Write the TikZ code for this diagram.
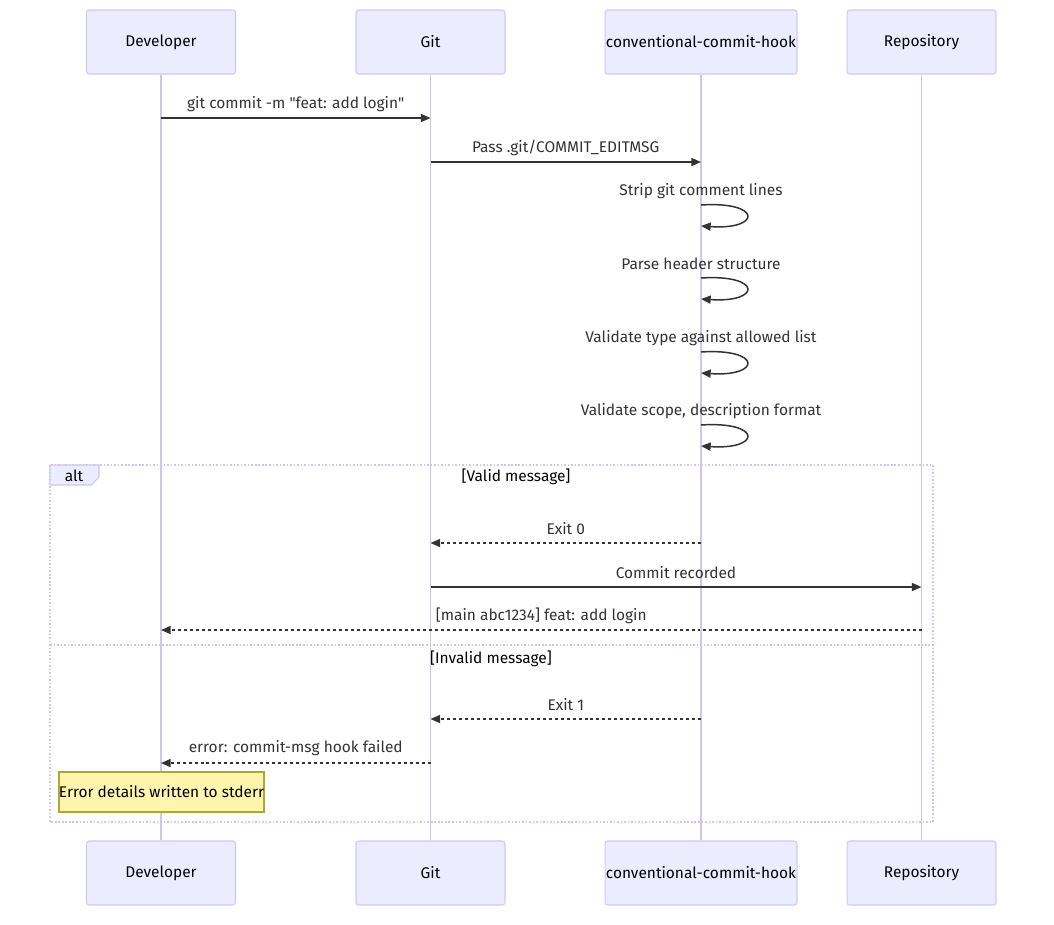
\documentclass[tikz,border=0pt]{standalone}
\usepackage{fontspec}
\setmainfont{Fira Sans}
\usetikzlibrary{positioning, arrows.meta, shapes.geometric}
\definecolor{actorfill}{HTML}{ECECFF}
\definecolor{actorline}{HTML}{D3C8F2}
\definecolor{lifeline}{HTML}{D0C5F0}
\definecolor{msgline}{HTML}{333333}
\definecolor{notefill}{HTML}{FFF5AD}
\definecolor{noteline}{HTML}{AAAA33}

\begin{document}
\begin{tikzpicture}[x=0.02cm, y=-0.02cm, font=\fontsize{8.8}{10}\selectfont,
    actor/.style={draw=actorline, fill=actorfill, rounded corners=1.5pt,
      line width=0.6pt, minimum width=2.98cm, minimum height=1.28cm, text=black},
    wideactor/.style={actor, minimum width=3.84cm, inner xsep=0pt},
    lifeln/.style={draw=lifeline, line width=0.95pt},
    msg/.style={draw=msgline, line width=0.85pt, -{Triangle[length=5.5pt,width=4.6pt]}},
    reply/.style={msg, dash pattern=on 1.7pt off 1.7pt},
    lbl/.style={text=msgline, inner sep=0pt},
    altframe/.style={draw=lifeline, line width=0.85pt, dash pattern=on 0.9pt off 1.1pt},
    note/.style={draw=noteline, fill=notefill, line width=0.6pt,
      minimum width=4.1cm, minimum height=0.8cm}]
    \useasboundingbox (0,0) rectangle (1054,924);

    % Actors top and bottom
    \node[actor] (dev) at (161,42) {Developer};
    \node[actor] (git) at (430.5,42) {Git};
    \node[wideactor] (hook) at (701,42) {conventional-commit-hook};
    \node[actor] (repo) at (921.5,42) {Repository};
    \node[actor] (devb) at (161,873) {Developer};
    \node[actor] (gitb) at (430.5,873) {Git};
    \node[wideactor] (hookb) at (701,873) {conventional-commit-hook};
    \node[actor] (repob) at (921.5,873) {Repository};

    % Lifelines
    \foreach \a in {dev, git, hook, repo} {
        \draw[lifeln] (\a.south) -- (\a b.north);
    }

    % Alt frame
    \draw[altframe] (50,465) rectangle (933,822);
    \draw[draw=lifeline, fill=actorfill, line width=0.6pt]
        (50,465) -- (99,465) -- (99,477) -- (91,485) -- (50,485) -- cycle;
    \node[lbl, text=black] (alt) at (74,476) {alt};
    \node[lbl, text=black] (valid) at (516,477) {[Valid message]};
    \coordinate (sepl) at (50,645);
    \coordinate (sepr) at (933,645);
    \draw[altframe] (sepl) -- (sepr);
    \node[lbl, text=black] (invalid) at (491,659) {[Invalid message]};

    % Message ends
    \coordinate (m1a) at (dev |- 0,118);  \coordinate (m1b) at (git |- 0,118);
    \coordinate (m2a) at (git |- 0,162);  \coordinate (m2b) at (hook |- 0,162);
    \coordinate (m7a) at (hook |- 0,543); \coordinate (m7b) at (git |- 0,543);
    \coordinate (m8a) at (git |- 0,587);  \coordinate (m8b) at (repo |- 0,587);
    \coordinate (m9a) at (repo |- 0,630); \coordinate (m9b) at (dev |- 0,630);
    \coordinate (m10a) at (hook |- 0,719); \coordinate (m10b) at (git |- 0,719);
    \coordinate (m11a) at (git |- 0,763); \coordinate (m11b) at (dev |- 0,763);

    % Calls
    \draw[msg] (m1a) -- (m1b) node[lbl, midway, yshift=0.28cm]
        {git commit -m \textquotedbl feat: add login\textquotedbl};
    \draw[msg] (m2a) -- (m2b) node[lbl, midway, yshift=0.28cm] {Pass .git/COMMIT\_EDITMSG};

    % Self checks of the hook
    \foreach \y/\txt in {205/Strip git comment lines, 278/Parse header structure,
        352/Validate type against allowed list, 425/{Validate scope, description format}} {
        \coordinate (s\y a) at (hook |- 0,\y);
        \coordinate (s\y b) at (hook |- 0,\y+21);
        \draw[msg] (s\y a) .. controls +(61,-4) and +(61,4) .. (s\y b);
        \node[lbl] at ([yshift=0.28cm]s\y a) {\txt};
    }

    % Valid branch
    \draw[reply] (m7a) -- (m7b) node[lbl, midway, yshift=0.28cm] {Exit 0};
    \draw[msg] (m8a) -- (m8b) node[lbl, midway, yshift=0.28cm] {Commit recorded};
    \draw[reply] (m9a) -- (m9b) node[lbl, midway, yshift=0.28cm] {[main abc1234] feat: add login};

    % Invalid branch
    \draw[reply] (m10a) -- (m10b) node[lbl, midway, yshift=0.28cm] {Exit 1};
    \draw[reply] (m11a) -- (m11b) node[lbl, midway, yshift=0.3cm] {error: commit-msg hook failed};
    \node[note] (errnote) at (161.5,792) {};
    \node[lbl, text=black] (errtxt) at (errnote) {Error details written to stderr};
\end{tikzpicture}
\end{document}
